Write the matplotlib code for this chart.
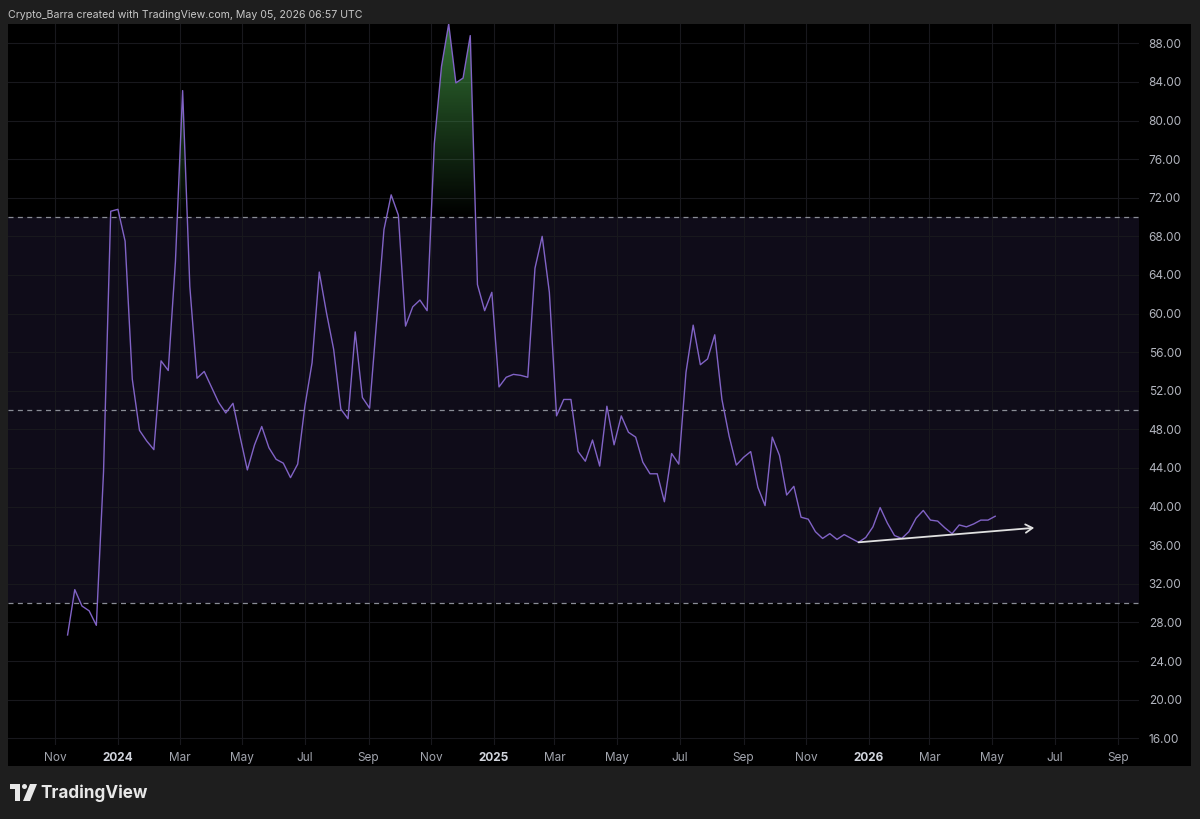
import numpy as np
import pandas as pd
import matplotlib
matplotlib.use("Agg")
import matplotlib.pyplot as plt
import matplotlib.dates as mdates
from matplotlib.patches import Rectangle, Polygon, Circle
from matplotlib.path import Path

plt.rcParams['font.family'] = ['Inter', 'DejaVu Sans']

# weekly RSI, first bar = week of 2023-11-13
start_week = '2023-11-13'
rsi = [26.7, 31.4, 29.7, 29.2, 27.7, 43.6, 70.6, 70.8, 67.5, 53.2,
       47.9, 46.8, 45.9, 55.1, 54.1, 65.4, 83.1, 62.8, 53.3, 54.0,
       52.4, 50.8, 49.7, 50.7, 47.2, 43.8, 46.4, 48.3, 46.1, 44.9,
       44.5, 43.0, 44.4, 50.4, 54.9, 64.3, 60.1, 56.3, 50.1, 49.1,
       58.1, 51.3, 50.2, 59.4, 68.7, 72.3, 70.2, 58.7, 60.7, 61.4,
       60.3, 77.6, 85.6, 90.0, 83.9, 84.4, 88.8, 63.0, 60.3, 62.2,
       52.4, 53.4, 53.7, 53.6, 53.4, 64.7, 68.0, 62.2, 49.4, 51.1,
       51.1, 45.7, 44.7, 46.9, 44.2, 50.4, 46.4, 49.4, 47.7, 47.2,
       44.6, 43.4, 43.4, 40.5, 45.5, 44.4, 53.9, 58.8, 54.7, 55.3,
       57.8, 51.1, 47.3, 44.3, 45.1, 45.7, 42.0, 40.1, 47.2, 45.3,
       41.2, 42.1, 38.9, 38.7, 37.4, 36.7, 37.2, 36.6, 37.1, 36.7,
       36.3, 36.8, 37.9, 39.9, 38.3, 37.0, 36.7, 37.4, 38.8, 39.6,
       38.6, 38.5, 37.8, 37.2, 38.1, 37.9, 38.2, 38.6, 38.6, 39.0]
weeks = pd.date_range(start_week, periods=len(rsi), freq='W-MON')

# hand drawn trend line
trend_dates = pd.to_datetime(['2025-12-22', '2026-06-11'])
trend_vals = [36.3, 37.8]

levels = [70, 50, 30]
yticks = [16, 20, 24, 28, 32, 36, 40, 44, 48, 52, 56, 60, 64, 68, 72, 76, 80, 84, 88]
tick_dates = pd.date_range('2023-11-01', '2026-09-01', freq='2MS')
tick_labels = [str(d.year) if d.month == 1 else d.strftime('%b') for d in tick_dates]

W, H = 1200, 819
def fx(px): return px / W
def fy(py): return 1 - py / H

fig = plt.figure(figsize=(12, 8.19), dpi=100, facecolor='#1e1e1e')

# black chart panel
fig.add_artist(Rectangle((fx(8), fy(766)), fx(1191) - fx(8), fy(24) - fy(766),
                         transform=fig.transFigure, facecolor='black',
                         edgecolor='none', zorder=-1))

ax = fig.add_axes([fx(8), fy(745), fx(1139) - fx(8), fy(24) - fy(745)])
ax.set_facecolor('black')

xnum = mdates.date2num(weeks)
vals = np.array(rsi)

ax.axhspan(30, 70, color='#0f0c19', lw=0, zorder=0)
for lv in levels:
    ax.axhline(lv, color='#8a8d96', lw=0.9, ls=(0, (4, 3.5)), zorder=2)

# green gradient above 70
fb = ax.fill_between(xnum, vals, 70, where=vals > 70, interpolate=True,
                     facecolor='none', edgecolor='none')
clip = Path.make_compound_path(*fb.get_paths())
grad = np.zeros((256, 1, 4))
grad[:, 0, 0:3] = (0.30, 0.69, 0.31)
grad[:, 0, 3] = np.linspace(1, 0, 256)
img = ax.imshow(grad, extent=[xnum[0], xnum[-1], 70, 100], aspect='auto',
                origin='upper', zorder=3)
img.set_clip_path(clip, ax.transData)

ax.plot(xnum, vals, color='#8163c6', lw=1.0, zorder=4)

ax.annotate('', xy=(mdates.date2num(trend_dates[1]), trend_vals[1]),
            xytext=(mdates.date2num(trend_dates[0]), trend_vals[0]),
            arrowprops=dict(arrowstyle='->,head_length=0.5,head_width=0.3',
                            color='#e0e0e0', lw=1.3, shrinkA=0, shrinkB=0),
            zorder=5)

ax.set_xlim(mdates.date2num(pd.Timestamp('2023-09-16')),
            mdates.date2num(pd.Timestamp('2026-09-21')))
ax.set_ylim(15.3, 90.0)

ax.grid(True, color='#18181d', lw=0.8)
ax.set_axisbelow(True)
for s in ax.spines.values():
    s.set_visible(False)

ax.yaxis.tick_right()
ax.set_yticks(yticks)
ax.set_yticklabels([f'{v:.2f}' for v in yticks])
ax.tick_params(axis='y', length=0, pad=7, labelsize=8.5, labelcolor='#b2b5be')

ax.set_xticks(mdates.date2num(tick_dates))
ax.set_xticklabels(tick_labels)
ax.tick_params(axis='x', length=0, pad=5, labelsize=8.5, labelcolor='#a3a6af')
for lab in ax.get_xticklabels():
    if lab.get_text().isdigit():
        lab.set_fontweight('bold')
        lab.set_color('#d1d4dc')

fig.text(fx(8), fy(15), 'Crypto_Barra created with TradingView.com, May 05, 2026 06:57 UTC',
         color='#c8c8c8', fontsize=7.6, va='center', ha='left')

# TradingView logo
ov = fig.add_axes([0, 0, 1, 1], zorder=10)
ov.set_xlim(0, W)
ov.set_ylim(H, 0)
ov.axis('off')
ov.patch.set_alpha(0)
ov.add_patch(Polygon([(10, 784), (20, 784), (20, 801), (15, 801), (15, 789), (10, 789)],
                     closed=True, facecolor='#e8e8e8', edgecolor='none'))
ov.add_patch(Circle((24.5, 786.5), 2.5, facecolor='#e8e8e8', edgecolor='none'))
ov.add_patch(Polygon([(30, 784), (37, 784), (30, 801), (23, 801)],
                     closed=True, facecolor='#e8e8e8', edgecolor='none'))
fig.text(fx(40), fy(793), 'TradingView', fontsize=12.3, fontweight='bold',
         color='#e8e8e8', va='center', ha='left')

fig.savefig('out.png', dpi=100, facecolor=fig.get_facecolor())
